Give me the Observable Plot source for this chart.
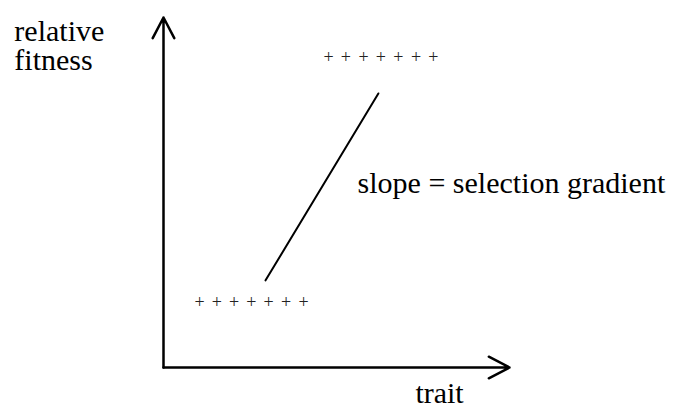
<!DOCTYPE html>
<html>
<head>
<meta charset="utf-8">
<script src="https://cdn.jsdelivr.net/npm/d3@7"></script>
<script src="https://cdn.jsdelivr.net/npm/@observablehq/plot@0.6"></script>
</head>
<body style="margin:0">
<div id="chart"></div>
<script>
// Axes (arrows) in data units: origin to end of each axis
const axisArrows = [
  {x1: 0, y1: 0, x2: 0, y2: 10},
  {x1: 0, y1: 0, x2: 10, y2: 0}
];

// Individuals shown as "+" at low and high fitness
const lowTraitX  = [1.04, 1.54, 2.04, 2.54, 3.04, 3.54, 4.05];
const lowFitness = 1.86;
const highTraitX = [4.77, 5.27, 5.78, 6.28, 6.79, 7.30, 7.80];
const highFitness = 8.86;

// Regression line (selection gradient)
const slopeLine = [
  {x: 2.95, y: 2.49},
  {x: 6.21, y: 7.83}
];

// Text labels
const labelTexts = ["relative", "fitness", "slope = selection gradient", "trait"];
const labelX = [-4.31, -4.31, 5.61, 7.28];
const labelY = [9.33, 8.50, 5.0, -1.0];

const points = [
  ...lowTraitX.map(x => ({x, y: lowFitness})),
  ...highTraitX.map(x => ({x, y: highFitness}))
];
const labels = labelTexts.map((text, i) => ({text, x: labelX[i], y: labelY[i]}));

const chart = Plot.plot({
  width: 687,
  height: 408,
  marginLeft: 163,
  marginRight: 178,
  marginTop: 17,
  marginBottom: 41,
  x: {domain: [0, 10], axis: null},
  y: {domain: [0, 10], axis: null},
  marks: [
    Plot.arrow(axisArrows, {
      x1: "x1", y1: "y1", x2: "x2", y2: "y2",
      stroke: "#000", strokeWidth: 2.5,
      headLength: 14, headAngle: 55
    }),
    Plot.line(slopeLine, {x: "x", y: "y", stroke: "#000", strokeWidth: 2}),
    Plot.text(points, {
      x: "x", y: "y", text: () => "+",
      fontSize: 18, fontFamily: "Liberation Serif", fill: "#222"
    }),
    ...labels.map(d => Plot.text([d], {
      x: "x", y: "y", text: "text",
      fontSize: 30, fontFamily: "Liberation Serif", fill: "#000",
      textAnchor: "start", lineAnchor: "bottom"
    }))
  ]
});

document.getElementById("chart").appendChild(chart);
</script>
</body>
</html>
